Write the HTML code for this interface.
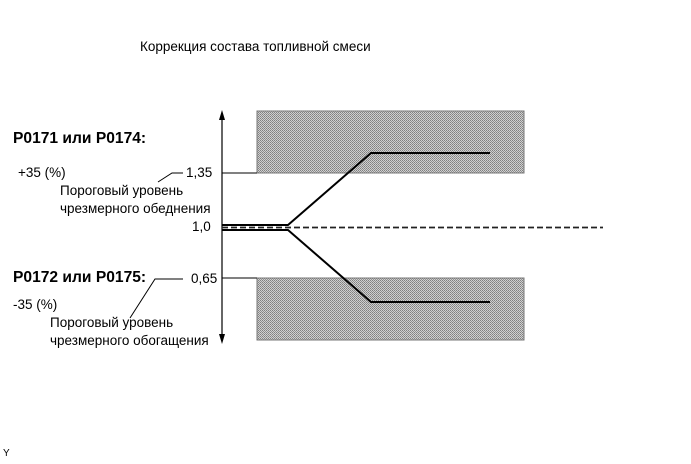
<!DOCTYPE html>
<html><head><meta charset="utf-8"><style>
body{margin:0;background:#fff;width:691px;height:459px;overflow:hidden}
svg text{font-family:"Liberation Sans",Arial,sans-serif;font-size:13.5px;fill:#000}
</style></head><body>
<svg width="691" height="459" viewBox="0 0 691 459" xmlns="http://www.w3.org/2000/svg">
<defs>
<pattern id="p" width="2" height="2" patternUnits="userSpaceOnUse">
<rect width="2" height="2" fill="#d0d0d0"/><rect width="1" height="1" fill="#808080"/><rect x="1" y="1" width="1" height="1" fill="#909090"/>
</pattern>
</defs>
<text x="140" y="51">Коррекция состава топливной смеси</text>
<rect x="257" y="111" width="267" height="62" fill="url(#p)" stroke="#777" stroke-width="1"/>
<rect x="257" y="278" width="267" height="62" fill="url(#p)" stroke="#777" stroke-width="1"/>
<line x1="222" y1="118" x2="222" y2="336" stroke="#000" stroke-width="1.2"/>
<polygon points="222,110 219,120 225,120" fill="#000"/>
<polygon points="222,344 219,334 225,334" fill="#000"/>
<line x1="222" y1="173" x2="257" y2="173" stroke="#000"/>
<line x1="222" y1="278" x2="257" y2="278" stroke="#000"/>
<line x1="222" y1="227.5" x2="603" y2="227.5" stroke="#222" stroke-width="1.8" stroke-dasharray="6,3"/>
<polyline points="222,225 288,225 371,153 490,153" fill="none" stroke="#000" stroke-width="2"/>
<polyline points="222,230 288,230 371,302 490,302" fill="none" stroke="#000" stroke-width="2"/>
<text x="13" y="143" style="font-weight:bold;font-size:15.6px">P0171 или P0174:</text>
<text x="18" y="177">+35 (%)</text>
<text x="186" y="177">1,35</text>
<polyline points="158,182 172,173 183,173" fill="none" stroke="#000"/>
<text x="60" y="195">Пороговый уровень</text>
<text x="60" y="213">чрезмерного обеднения</text>
<text x="192" y="231">1,0</text>
<text x="13" y="282" style="font-weight:bold;font-size:15.6px">P0172 или P0175:</text>
<text x="191" y="283">0,65</text>
<polyline points="130,318 155,279 183,279" fill="none" stroke="#000"/>
<text x="13" y="309">-35 (%)</text>
<text x="50" y="327">Пороговый уровень</text>
<text x="50" y="345">чрезмерного обогащения</text>
<text x="3" y="456" style="font-size:10px">Y</text>
</svg>
</body></html>
